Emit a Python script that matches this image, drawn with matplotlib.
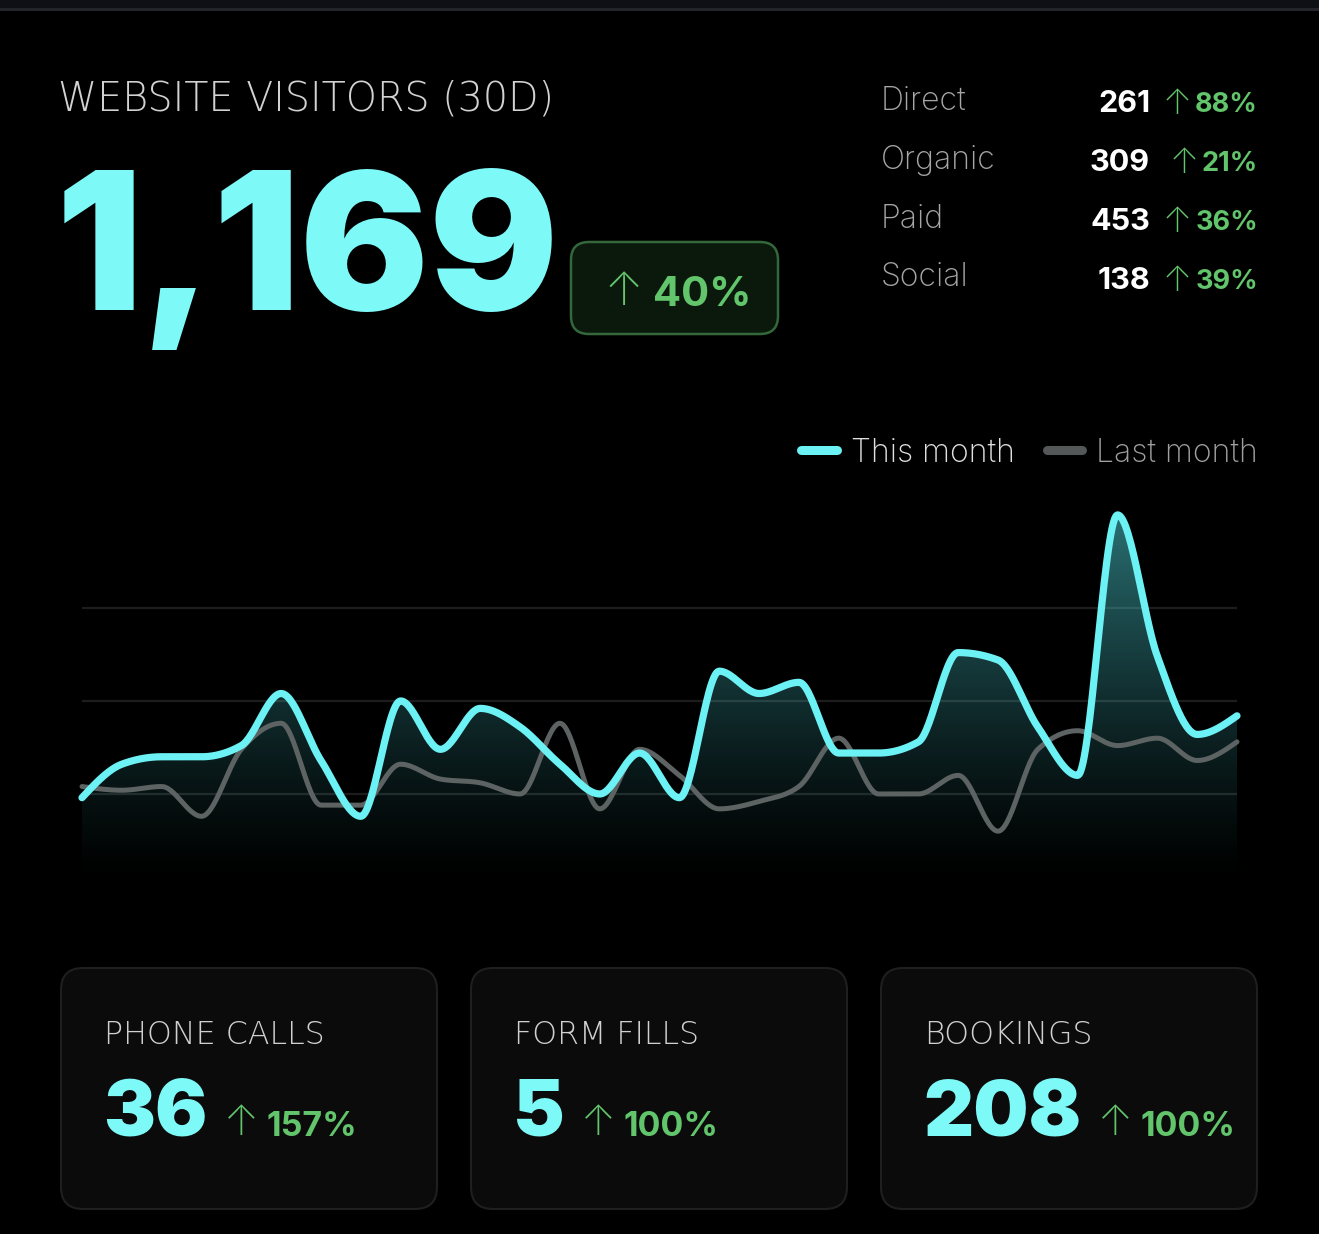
import numpy as np
import matplotlib
matplotlib.use("Agg")
import matplotlib.pyplot as plt
from matplotlib.patches import FancyBboxPatch, Rectangle
from matplotlib.lines import Line2D
from matplotlib.colors import LinearSegmentedColormap

# daily visitors, 30 days
days = np.arange(30)
this_month = [24, 33, 35, 35, 38, 52, 34, 19, 50, 37, 48, 43, 33, 25, 36,
              24, 58, 52, 55, 36, 36, 39, 63, 61, 43, 30, 100, 62, 41, 46]
last_month = [27, 26, 27, 19, 37, 44, 22, 22, 33, 29, 28, 25, 44, 21, 37,
              30, 21, 23, 27, 40, 25, 25, 30, 15, 37, 42, 38, 40, 34, 39]
grid_vals = [25, 50, 75]

total_visitors = "1,169"
total_change = "40%"

channels = ["Direct", "Organic", "Paid", "Social"]
channel_counts = ["261", "309", "453", "138"]
channel_change = ["88%", "21%", "36%", "39%"]

card_titles = ["PHONE CALLS", "FORM FILLS", "BOOKINGS"]
card_values = ["36", "5", "208"]
card_change = ["157%", "100%", "100%"]

CYAN = "#7df9f8"
LINE_CYAN = "#6cf2f4"
GRAY = "#5d6262"
GREEN = "#62c46b"
BOLD = ["Inter", "DejaVu Sans"]
LIGHT = ["Inter", "DejaVu Sans"]
WIDE = ["DejaVu Sans"]


def monotone(x, y, n=30):
    # same curve as d3.curveMonotoneX
    x = np.asarray(x, float)
    y = np.asarray(y, float)
    h = np.diff(x)
    s = np.diff(y) / h
    t = np.zeros(len(x))
    for i in range(1, len(x) - 1):
        s0, s1 = s[i - 1], s[i]
        p = (s0 * h[i] + s1 * h[i - 1]) / (h[i - 1] + h[i])
        sg = (-1 if s0 < 0 else 1) + (-1 if s1 < 0 else 1)
        t[i] = sg * min(abs(s0), abs(s1), 0.5 * abs(p))
    t[0] = (3 * s[0] - t[1]) / 2
    t[-1] = (3 * s[-1] - t[-2]) / 2
    xs, ys = [], []
    for i in range(len(x) - 1):
        u = np.linspace(0, 1, n, endpoint=False)
        h00 = 2 * u**3 - 3 * u**2 + 1
        h10 = u**3 - 2 * u**2 + u
        h01 = -2 * u**3 + 3 * u**2
        h11 = u**3 - u**2
        xs.append(x[i] + u * h[i])
        ys.append(h00 * y[i] + h10 * h[i] * t[i] + h01 * y[i + 1] + h11 * h[i] * t[i + 1])
    xs.append([x[-1]])
    ys.append([y[-1]])
    return np.concatenate(xs), np.concatenate(ys)


W, H = 1319, 1234
fig = plt.figure(figsize=(W / 100, H / 100), dpi=100, facecolor="black")

# pixel-space overlay for the text and boxes
bg = fig.add_axes([0, 0, 1, 1], zorder=0)
bg.set_xlim(0, W)
bg.set_ylim(H, 0)
bg.axis("off")
bg.set_facecolor("black")

bg.add_patch(Rectangle((0, 0), W, 8, color="#0f0f16", lw=0))
bg.add_patch(Rectangle((0, 8), W, 2.5, color="#24242b", lw=0))

bg.text(58, 99, "WEBSITE VISITORS (30D)", color="#d2d2d2", fontsize=28.5,
        family=WIDE, fontweight=200, va="center", ha="left")
bg.text(56, 310, total_visitors, color=CYAN, fontsize=138, family=BOLD,
        fontweight="black", va="baseline", ha="left")

bg.add_patch(FancyBboxPatch((571, 242), 207, 92, boxstyle="round,pad=0,rounding_size=18",
                            fc="#0a190c", ec="#34683b", lw=1.8))
bg.text(624, 293, "\u2191", color=GREEN, fontsize=33, family=LIGHT,
        fontweight="light", va="center", ha="center")
bg.text(653, 306, total_change, color=GREEN, fontsize=30, family=BOLD,
        fontweight="bold", va="baseline", ha="left")

fig.canvas.draw()
rend = fig.canvas.get_renderer()

rows_y = [101, 160, 219, 278]
for lab, cnt, chg, yy in zip(channels, channel_counts, channel_change, rows_y):
    bg.text(881, yy, lab, color="#a6a6a6", fontsize=23, family=LIGHT,
            fontweight="light", va="center", ha="left")
    bg.text(1150, yy + 11, cnt, color="white", fontsize=22, family=BOLD,
            fontweight="bold", va="baseline", ha="right")
    pt = bg.text(1258, yy + 11, chg, color=GREEN, fontsize=19.5, family=BOLD,
                 fontweight="bold", va="baseline", ha="right")
    wpx = pt.get_window_extent(rend).width
    bg.text(1258 - wpx - 18, yy + 4, "\u2191", color=GREEN, fontsize=25, family=LIGHT,
            fontweight="light", va="center", ha="center")

# cards
card_x = [61, 471, 881]
for cx, title, val, chg in zip(card_x, card_titles, card_values, card_change):
    bg.add_patch(FancyBboxPatch((cx, 968), 376, 241, boxstyle="round,pad=0,rounding_size=22",
                                fc="#0b0b0b", ec="#1f1f1f", lw=1.5))
    bg.text(cx + 43, 1035, title, color="#d0d0d0", fontsize=22.8, family=WIDE,
            fontweight=200, va="center", ha="left")
    tv = bg.text(cx + 42, 1136, val, color=CYAN, fontsize=56, family=BOLD,
                 fontweight="black", va="baseline", ha="left")
    wv = tv.get_window_extent(rend).width
    ax_arrow = cx + 42 + wv + 34
    bg.text(ax_arrow, 1124, "\u2191", color=GREEN, fontsize=30, family=LIGHT,
            fontweight="light", va="center", ha="center")
    bg.text(ax_arrow + 25, 1136, chg, color=GREEN, fontsize=24.5, family=BOLD,
            fontweight="bold", va="baseline", ha="left")

# line chart
top_px, base_px = 500, 887
ax = fig.add_axes([82 / W, 1 - base_px / H, (1237 - 82) / W, (base_px - top_px) / H], zorder=2)
ax.set_xlim(0, 29)
ax.set_ylim(0, 104)
ax.axis("off")
ax.patch.set_alpha(0)

for g in grid_vals:
    ax.axhline(g, color="#1d1d1d", lw=1.6, zorder=1)

xs, ys = monotone(days, this_month)
xg, yg = monotone(days, last_month)

poly = ax.fill_between(xs, 0, ys, facecolor="none", edgecolor="none")
grad = np.linspace(0, 1, 256).reshape(-1, 1) ** 1.3
cmap = LinearSegmentedColormap.from_list("fade", [(0.3, 0.8, 0.82, 0.0), (0.3, 0.8, 0.82, 0.55)])
im = ax.imshow(grad, extent=(0, 29, 0, 100), origin="lower", aspect="auto",
               cmap=cmap, zorder=2, interpolation="bilinear")
im.set_clip_path(poly.get_paths()[0], transform=ax.transData)

ax.plot(xg, yg, color=GRAY, lw=3.6, zorder=3, solid_capstyle="round", clip_on=False)
ax.plot(xs, ys, color=LINE_CYAN, lw=5.2, zorder=4, solid_capstyle="round", clip_on=False)

handles = [Line2D([], [], color=LINE_CYAN, lw=6.5, solid_capstyle="round"),
           Line2D([], [], color="#555858", lw=6.5, solid_capstyle="round")]
ax.legend(handles, ["This month", "Last month"], ncol=2, loc="center right",
          bbox_to_anchor=(1258 / W, 1 - 453 / H), bbox_transform=fig.transFigure,
          frameon=False, prop={"family": LIGHT, "size": 23, "weight": "light"},
          labelcolor=["#e0e0e0", "#a0a0a0"], handlelength=1.1, handletextpad=0.45,
          columnspacing=1.0, borderaxespad=0, borderpad=0)

fig.savefig("out.png", dpi=100, facecolor="black")
